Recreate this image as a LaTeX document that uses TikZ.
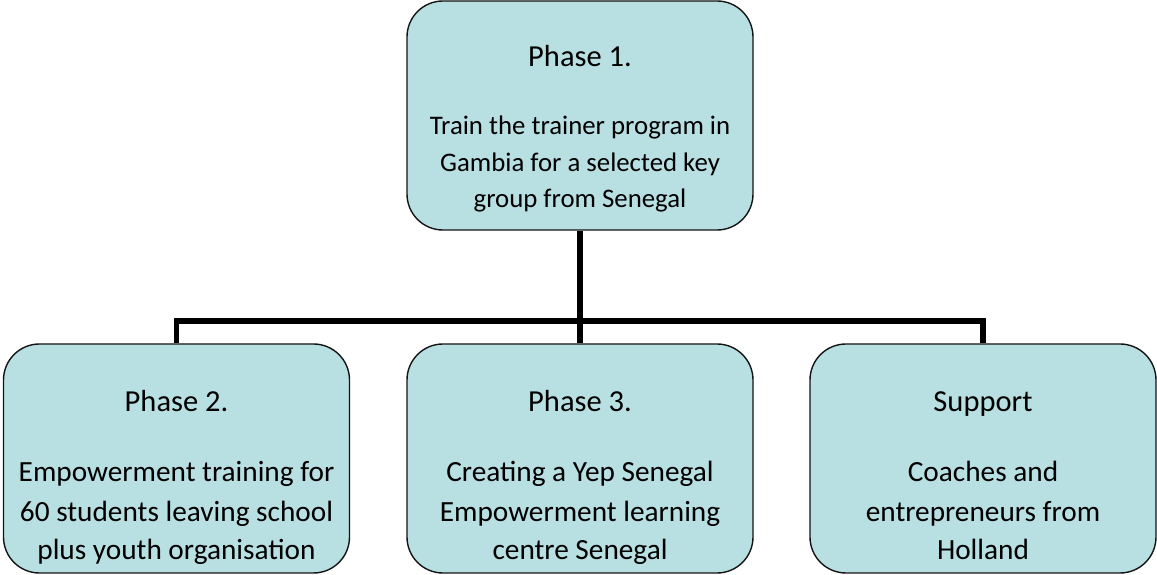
\documentclass[tikz,border=0pt]{standalone}
\usepackage{fontspec}
\setmainfont{Carlito}
\definecolor{boxfill}{RGB}{184,223,226}
\definecolor{boxline}{RGB}{20,20,20}
\begin{document}
\begin{tikzpicture}[x=1pt,y=1pt,
  box/.style={draw=boxline,line width=1.4pt,fill=boxfill,rounded corners=36pt,
    minimum width=346pt,minimum height=229pt,inner sep=0pt},
  conn/.style={draw=black,line width=5.5pt},
  lbl/.style={anchor=base,inner sep=0pt,font=\fontsize{26.8}{32}\selectfont},
  blbl/.style={lbl,font=\fontsize{29.3}{35}\selectfont},
  head/.style={lbl,font=\fontsize{30.5}{36}\selectfont}]
\useasboundingbox (0,0) rectangle (1157,575);
\fill[white] (0,0) rectangle (1157,575);
% boxes
\node[box] (top) at (580,459.5) {};
\node[box] (b1) at (176.5,116.5) {};
\node[box] (b2) at (580,116.5) {};
\node[box] (b3) at (983,116.5) {};
% connectors
\coordinate (bus) at (0,254);
\draw[conn] (top.south) -- (b2.north);
\draw[conn] (b1.north) -- (b1.north |- bus) -- (b3.north |- bus) -- (b3.north);
% texts
\node[head] (t1h) at (580,508) {Phase 1.};
\node[lbl] (t1a) at (580,440) {Train the trainer program in};
\node[lbl] (t1b) at (580,403) {Gambia for a selected key};
\node[lbl] (t1c) at (580,367) {group from Senegal};
\begin{scope}
\clip (0,11) rectangle (1157,575);
\node[head] (t2h) at (176.5,163) {Phase 2.};
\node[blbl] (t2a) at (176.5,93) {Empowerment training for};
\node[blbl] (t2b) at (176.5,53) {60 students leaving school};
\node[blbl] (t2c) at (176.5,15) {plus youth organisation};
\node[head] (t3h) at (580,163) {Phase 3.};
\node[blbl] (t3a) at (580,93) {Creating a Yep Senegal};
\node[blbl] (t3b) at (580,53) {Empowerment learning};
\node[blbl] (t3c) at (580,15) {centre Senegal};
\node[head] (t4h) at (983,163) {Support};
\node[blbl] (t4a) at (983,93) {Coaches and};
\node[blbl] (t4b) at (983,53) {entrepreneurs from};
\node[blbl] (t4c) at (983,15) {Holland};
\end{scope}
\end{tikzpicture}
\end{document}
